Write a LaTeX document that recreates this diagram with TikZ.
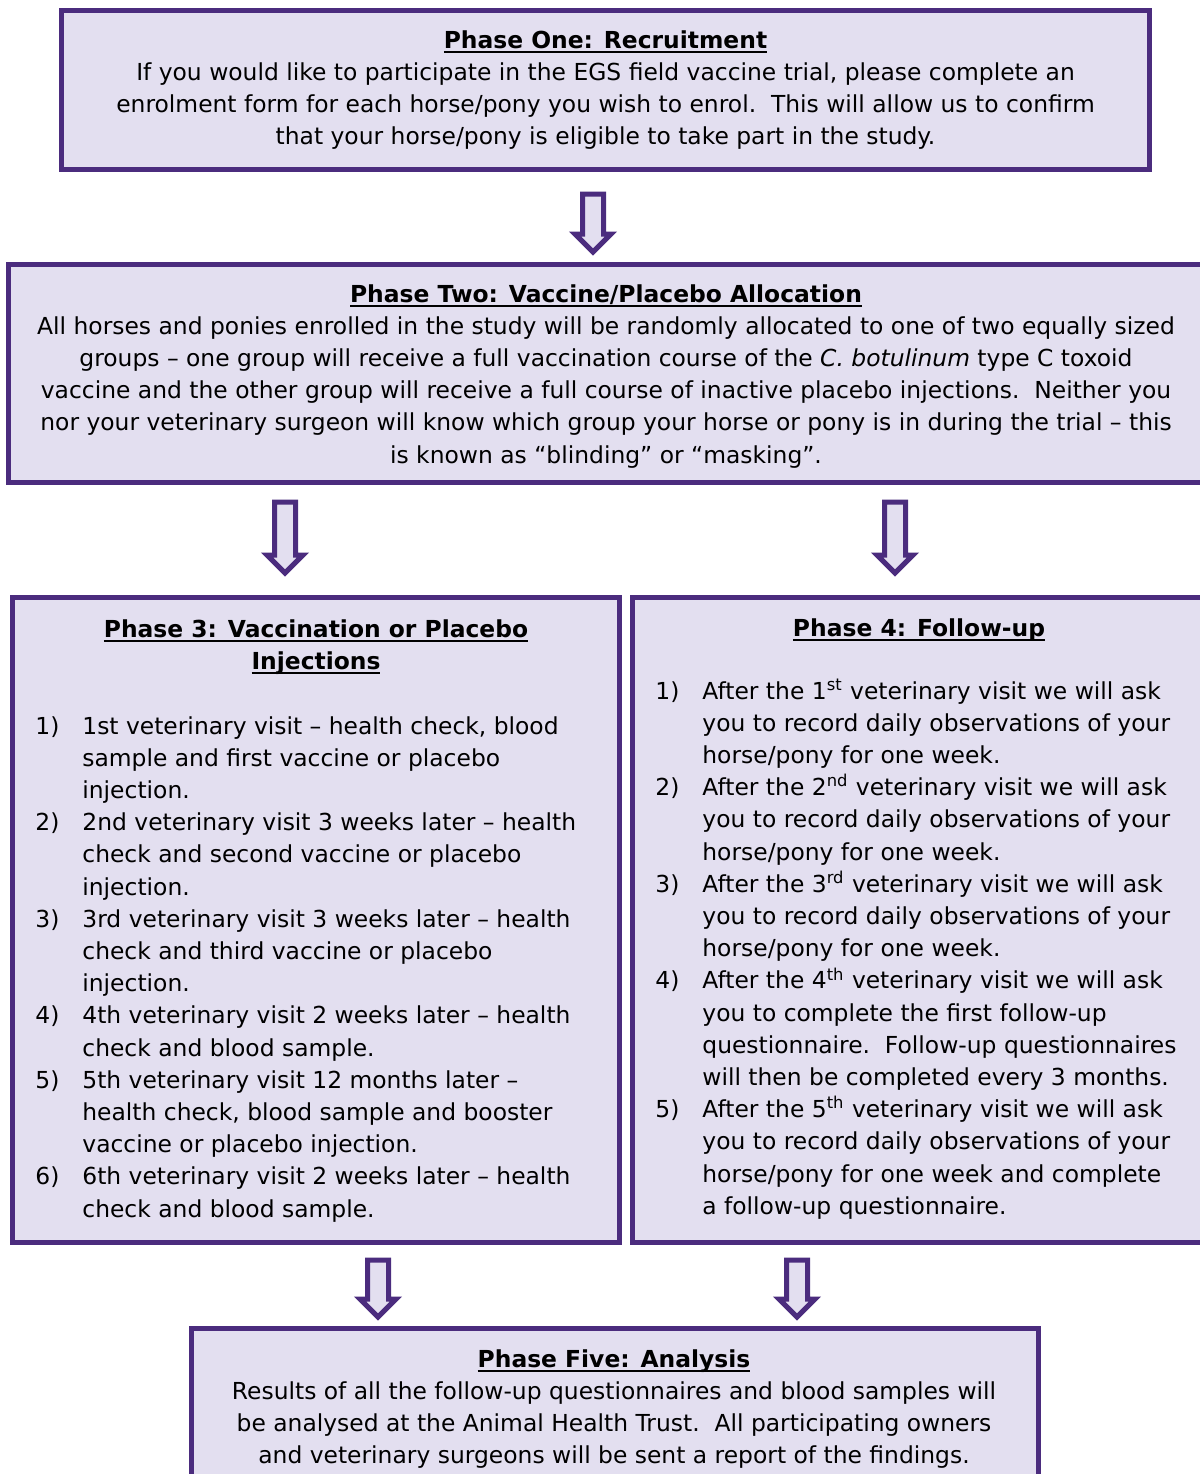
\documentclass[tikz,border=0pt]{standalone}
\usepackage{fontspec}
\setmainfont{DejaVu Sans}
\usetikzlibrary{shapes.arrows}
\definecolor{boxline}{HTML}{4B2C7E}
\definecolor{boxfill}{HTML}{E3DFF0}
\newcommand{\phasehead}[1]{\setbox0\hbox{\bfseries #1}\rlap{\rule[-2.4pt]{\wd0}{1.1pt}}\box0}
\tikzset{
  phasebox/.style={draw=boxline, fill=boxfill, line width=2.5pt, rectangle, inner sep=0pt},
  phasetext/.style={inner sep=0pt, anchor=base, font=\fontsize{11.7}{16.1}\selectfont},
  downarrow/.style={shape=single arrow, draw=boxline, fill=boxfill, line width=2.5pt,
    rotate=-90, anchor=tail, inner xsep=0pt, inner ysep=4pt, minimum width=0pt,
    single arrow head extend=3.75pt, single arrow head indent=0pt},
}
\begin{document}
\begin{tikzpicture}[x=0.5pt, y=-0.5pt]
    \useasboundingbox (0,0) rectangle (1200,1474);
    % boxes
    \node[phasebox, minimum width=544pt, minimum height=79.5pt] (rec) at (605.5,90) {};
    \node[phasebox, minimum width=601.75pt, minimum height=108.75pt] (alloc) at (610.25,373.25) {};
    \node[phasebox, minimum width=303.5pt, minimum height=322.5pt] (inj) at (316,920) {};
    \node[phasebox, minimum width=290pt, minimum height=322.5pt] (follow) at (922,920) {};
    \node[phasebox, minimum width=423.25pt, minimum height=83.25pt] (anal) at (614.75,1411.75) {};
    % arrows
    \foreach \n/\x/\y/\len in {1/593/191.5/29pt, 2/285/499.5/35.5pt, 3/895/499.5/35.5pt, 4/378/1257.5/28.5pt, 5/797/1257.5/28.5pt} {
        \node[downarrow, minimum height=\len] (arr\n) at (\x,\y) {};
    }
    % texts
    \node[phasetext] (rectext) at (605.5,48) {\begin{tabular}[t]{@{}c@{}}
        \phasehead{Phase One: Recruitment}\\
        If you would like to participate in the EGS field vaccine trial, please complete an\\
        enrolment form for each horse/pony you wish to enrol.\ \ This will allow us to confirm\\
        that your horse/pony is eligible to take part in the study.
    \end{tabular}};
    \node[phasetext] (alloctext) at (606,302) {\begin{tabular}[t]{@{}c@{}}
        \phasehead{Phase Two: Vaccine/Placebo Allocation}\\
        All horses and ponies enrolled in the study will be randomly allocated to one of two equally sized\\
        groups -- one group will receive a full vaccination course of the \textit{C. botulinum} type C toxoid\\
        vaccine and the other group will receive a full course of inactive placebo injections.\ \ Neither you\\
        nor your veterinary surgeon will know which group your horse or pony is in during the trial -- this\\
        is known as “blinding” or “masking”.
    \end{tabular}};
    \node[phasetext] (injtitle) at (316,637) {\begin{tabular}[t]{@{}c@{}}
        \phasehead{Phase 3: Vaccination or Placebo}\\
        \phasehead{Injections}
    \end{tabular}};
    \node[phasetext, anchor=base west] (injlist) at (35,734) {\begin{tabular}[t]{@{}p{23.5pt}@{}l@{}}
        1) & 1st veterinary visit -- health check, blood\\
           & sample and first vaccine or placebo\\
           & injection.\\
        2) & 2nd veterinary visit 3 weeks later -- health\\
           & check and second vaccine or placebo\\
           & injection.\\
        3) & 3rd veterinary visit 3 weeks later -- health\\
           & check and third vaccine or placebo\\
           & injection.\\
        4) & 4th veterinary visit 2 weeks later -- health\\
           & check and blood sample.\\
        5) & 5th veterinary visit 12 months later --\\
           & health check, blood sample and booster\\
           & vaccine or placebo injection.\\
        6) & 6th veterinary visit 2 weeks later -- health\\
           & check and blood sample.
    \end{tabular}};
    \node[phasetext] (followtitle) at (919,636) {\phasehead{Phase 4: Follow-up}};
    \node[phasetext, anchor=base west] (followlist) at (655,699) {\begin{tabular}[t]{@{}p{23.5pt}@{}l@{}}
        1) & After the 1\textsuperscript{st} veterinary visit we will ask\\
           & you to record daily observations of your\\
           & horse/pony for one week.\\
        2) & After the 2\textsuperscript{nd} veterinary visit we will ask\\
           & you to record daily observations of your\\
           & horse/pony for one week.\\
        3) & After the 3\textsuperscript{rd} veterinary visit we will ask\\
           & you to record daily observations of your\\
           & horse/pony for one week.\\
        4) & After the 4\textsuperscript{th} veterinary visit we will ask\\
           & you to complete the first follow-up\\
           & questionnaire.\ \ Follow-up questionnaires\\
           & will then be completed every 3 months.\\
        5) & After the 5\textsuperscript{th} veterinary visit we will ask\\
           & you to record daily observations of your\\
           & horse/pony for one week and complete\\
           & a follow-up questionnaire.
    \end{tabular}};
    \node[phasetext] (analtext) at (614,1367) {\begin{tabular}[t]{@{}c@{}}
        \phasehead{Phase Five: Analysis}\\
        Results of all the follow-up questionnaires and blood samples will\\
        be analysed at the Animal Health Trust.\ \ All participating owners\\
        and veterinary surgeons will be sent a report of the findings.
    \end{tabular}};
\end{tikzpicture}
\end{document}
